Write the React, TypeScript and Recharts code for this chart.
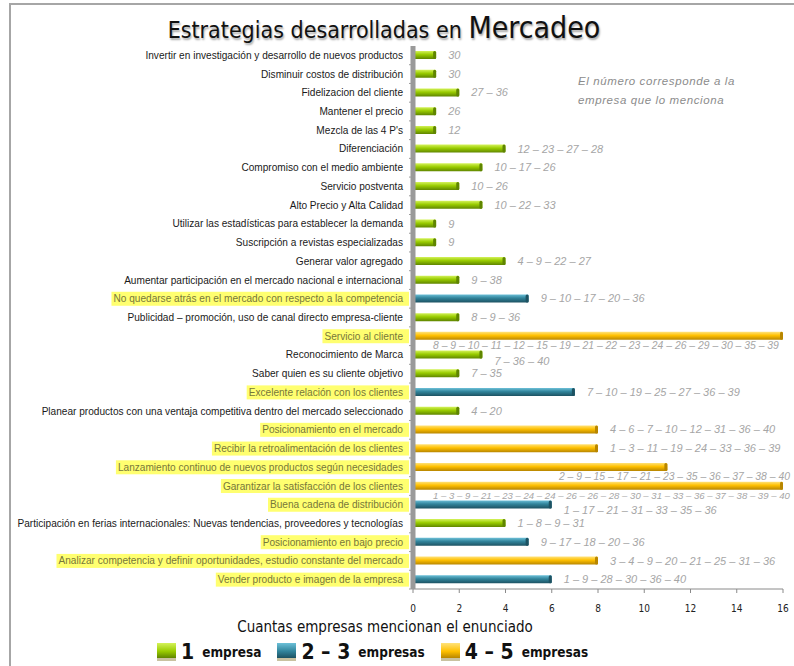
import React, { useLayoutEffect, useRef, useState } from "react";
import { Bar, BarChart, Cell, LabelList, XAxis, YAxis } from "recharts";

// estrategias de arriba hacia abajo, tal como aparecen en el gráfico
const categorias = [
  "Invertir en investigación y desarrollo de nuevos productos",
  "Disminuir costos de distribución",
  "Fidelizacion del cliente",
  "Mantener el precio",
  "Mezcla de las 4 P's",
  "Diferenciación",
  "Compromiso con el medio ambiente",
  "Servicio postventa",
  "Alto Precio y Alta Calidad",
  "Utilizar las estadísticas para establecer la demanda",
  "Suscripción a revistas especializadas",
  "Generar valor agregado",
  "Aumentar participación en el mercado nacional e internacional",
  "No quedarse atrás en el mercado con respecto a la competencia",
  "Publicidad – promoción, uso de canal directo empresa-cliente",
  "Servicio al cliente",
  "Reconocimiento de Marca",
  "Saber quien es su cliente objetivo",
  "Excelente relación con los clientes",
  "Planear productos con una ventaja competitiva dentro del mercado seleccionado",
  "Posicionamiento en el mercado",
  "Recibir la retroalimentación de los clientes",
  "Lanzamiento continuo de nuevos productos según necesidades",
  "Garantizar la satisfacción de los clientes",
  "Buena cadena de distribución",
  "Participación en ferias internacionales: Nuevas tendencias, proveedores y tecnologías",
  "Posicionamiento en bajo precio",
  "Analizar competencia y definir oportunidades, estudio constante del mercado",
  "Vender producto e imagen de la empresa",
];

const valores = [1, 1, 2, 1, 1, 4, 3, 2, 3, 1, 1, 4, 2, 5, 2, 16, 3, 2, 7, 2, 8, 8, 11, 16, 6, 4, 5, 8, 6];

// v = 1 empresa, a = 2–3 empresas, n = 4–5 empresas
const grupos = [
  "v", "v", "v", "v", "v", "v", "v", "v", "v", "v", "v", "v", "v", "a", "v",
  "n", "v", "v", "a", "v", "n", "n", "n", "n", "a", "v", "a", "n", "a",
];

const empresas = [
  "30",
  "30",
  "27 – 36",
  "26",
  "12",
  "12 – 23 – 27 – 28",
  "10 – 17 – 26",
  "10 – 26",
  "10 – 22 – 33",
  "9",
  "9",
  "4 – 9 – 22 – 27",
  "9 – 38",
  "9 – 10 – 17 – 20 – 36",
  "8 – 9 – 36",
  "8 – 9 – 10 – 11 – 12 – 15 – 19 – 21 – 22 – 23 – 24 – 26 – 29 – 30 – 35 – 39",
  "7 – 36 – 40",
  "7 – 35",
  "7 – 10 – 19 – 25 – 27 – 36 – 39",
  "4 – 20",
  "4 – 6 – 7 – 10 – 12 – 31 – 36 – 40",
  "1 – 3 – 11 – 19 – 24 – 33 – 36 – 39",
  "2 – 9 – 15 – 17 – 21 – 23 – 35 – 36 – 37 – 38 – 40",
  "1 – 3 – 9 – 21 – 23 – 24 – 24 – 26 – 26 – 28 – 30 – 31 – 33 – 36 – 37 – 38 – 39 – 40",
  "1 – 17 – 21 – 31 – 33 – 35 – 36",
  "1 – 8 – 9 – 31",
  "9 – 17 – 18 – 20 – 36",
  "3 – 4 – 9 – 20 – 21 – 25 – 31 – 36",
  "1 – 9 – 28 – 30 – 36 – 40",
];

const ticksX = [0, 2, 4, 6, 8, 10, 12, 14, 16];

const leyenda = [
  { grupo: "v", num: "1", txt: "empresa" },
  { grupo: "a", num: "2 – 3", txt: "empresas" },
  { grupo: "n", num: "4 – 5", txt: "empresas" },
];

const COLORES: Record<string, { claro: string; base: string; oscuro: string }> = {
  v: { claro: "#d4f25a", base: "#99cc00", oscuro: "#5f8500" },
  a: { claro: "#6cc0d8", base: "#31849b", oscuro: "#1d5262" },
  n: { claro: "#ffe27a", base: "#ffc000", oscuro: "#b88600" },
};

const FUENTE = "'Liberation Sans', Arial, sans-serif";
const ANGOSTA = "'Liberation Sans Narrow', 'DejaVu Sans Condensed', sans-serif";
const MAX_X = 16;
const BORDE_DER = 790;
const PASO = (589 - 46) / categorias.length;

const datos = categorias.map((nombre, i) => ({ nombre, valor: valores[i] }));

function EtiquetaCategoria(props: any) {
  const { x, y, payload } = props;
  const ref = useRef<SVGTextElement>(null);
  const [ancho, setAncho] = useState(0);
  useLayoutEffect(() => {
    if (ref.current) setAncho(ref.current.getComputedTextLength());
  }, []);
  const idx = payload.index ?? categorias.indexOf(payload.value);
  const resaltar = grupos[idx] !== "v";
  return (
    <g>
      {resaltar && ancho > 0 && (
        <rect x={x - ancho - 2} y={y - 7} width={ancho + 8} height={14} fill="#ffff70" />
      )}
      <text
        ref={ref}
        x={x}
        y={y}
        dy={3.5}
        textAnchor="end"
        fontFamily={FUENTE}
        fontSize={10.1}
        fill={resaltar ? "#77773a" : "#1a1a1a"}
      >
        {payload.value}
      </text>
      <line x1={x + 6} x2={x + 10} y1={y + PASO / 2} y2={y + PASO / 2} stroke="#9a9a9a" />
    </g>
  );
}

function Barra3D(props: any) {
  const { x, y, width, height, index } = props;
  const g = grupos[index];
  if (!width || width <= 0) return null;
  return (
    <g>
      <rect x={x} y={y} width={width} height={height} fill={`url(#grad-${g})`} rx={1} />
      <rect x={x + width - 3} y={y} width={3} height={height} fill={COLORES[g].oscuro} rx={1.5} />
    </g>
  );
}

// lista larga debajo de la barra; se achica si no cabe antes del borde
function AnotacionLarga({ x, y, width, height, index }: any) {
  const ref = useRef<SVGTextElement>(null);
  const [fs, setFs] = useState(10.4);
  const lleno = valores[index] >= MAX_X;
  const inicio = x + 20;
  useLayoutEffect(() => {
    if (!ref.current) return;
    const w = ref.current.getComputedTextLength();
    const disp = lleno ? BORDE_DER - inicio : BORDE_DER - (x + width) + 120;
    if (w > disp) setFs((f) => (f * disp) / w);
  }, []);
  return (
    <text
      ref={ref}
      x={lleno ? inicio : BORDE_DER}
      y={y + height + 9}
      textAnchor={lleno ? "start" : "end"}
      fontFamily={FUENTE}
      fontStyle="italic"
      fontSize={fs}
      fill="#a6a6a6"
    >
      {empresas[index]}
    </text>
  );
}

// la fila que sigue a una lista larga baja un poco su texto
function Anotacion(props: any) {
  const { x, y, width, height, index } = props;
  if (valores[index] >= 11) return <AnotacionLarga {...props} />;
  const previaLarga = index > 0 && valores[index - 1] >= 11;
  return (
    <text
      x={x + width + 12}
      y={y + height / 2 + (previaLarga ? 6 : 0)}
      dy={4}
      fontFamily={FUENTE}
      fontStyle="italic"
      fontSize={11}
      fill="#a6a6a6"
    >
      {empresas[index]}
    </text>
  );
}

function Cuadro({ grupo }: { grupo: string }) {
  const c = COLORES[grupo];
  return (
    <span
      style={{
        display: "inline-block",
        width: 19,
        height: 18,
        marginRight: 5,
        verticalAlign: "middle",
        background: `linear-gradient(180deg, ${c.claro} 0%, ${c.base} 55%, ${c.oscuro} 100%)`,
        borderBottom: "3px solid #c9c2a0",
        boxSizing: "border-box",
      }}
    />
  );
}

export default function App() {
  return (
    <div
      style={{
        position: "absolute",
        left: 0,
        top: 0,
        width: 794,
        height: 666,
        background: "#fff",
        overflow: "hidden",
      }}
    >
      {/* marco gris */}
      <div
        style={{
          position: "absolute",
          left: 9,
          top: 3,
          width: 800,
          height: 700,
          borderTop: "2px solid #a6a6a6",
          borderLeft: "2px solid #a6a6a6",
        }}
      />
      <div
        style={{
          position: "absolute",
          left: 0,
          width: 768,
          top: 10,
          textAlign: "center",
          fontFamily: ANGOSTA,
          color: "#111",
          textShadow: "1px 2px 2px rgba(0,0,0,0.35)",
          whiteSpace: "nowrap",
        }}
      >
        <span style={{ fontSize: 23 }}>Estrategias desarrolladas en </span>
        <span style={{ fontSize: 30 }}>Mercadeo</span>
      </div>
      <div
        style={{
          position: "absolute",
          left: 578,
          top: 72,
          fontFamily: FUENTE,
          fontStyle: "italic",
          fontSize: 11.5,
          lineHeight: "19px",
          color: "#8c8c8c",
          letterSpacing: 0.6,
        }}
      >
        El número corresponde a la
        <br />
        empresa que lo menciona
      </div>

      <div style={{ position: "absolute", left: 0, top: 0 }}>
        <BarChart
          width={794}
          height={666}
          data={datos}
          layout="vertical"
          margin={{ top: 46, right: 11, bottom: 57, left: 0 }}
          barCategoryGap={0}
        >
          <defs>
            {Object.keys(COLORES).map((g) => (
              <linearGradient key={g} id={`grad-${g}`} x1="0" y1="0" x2="0" y2="1">
                <stop offset="0%" stopColor={COLORES[g].claro} />
                <stop offset="45%" stopColor={COLORES[g].base} />
                <stop offset="100%" stopColor={COLORES[g].oscuro} />
              </linearGradient>
            ))}
          </defs>
          <XAxis
            type="number"
            domain={[0, MAX_X]}
            ticks={ticksX}
            interval={0}
            height={20}
            tick={{ fontSize: 10, fill: "#222", fontFamily: ANGOSTA }}
            tickSize={4}
            tickMargin={12}
            tickLine={{ stroke: "#8a8a8a" }}
            axisLine={{ stroke: "#8a8a8a" }}
            label={() => (
              <text x={385} y={632} textAnchor="middle" fontFamily={ANGOSTA} fontSize={15} fill="#111">
                Cuantas empresas mencionan el enunciado
              </text>
            )}
          />
          <YAxis
            type="category"
            dataKey="nombre"
            width={413}
            interval={0}
            tickLine={false}
            tickSize={0}
            tickMargin={10}
            axisLine={{ stroke: "#9a9a9a", strokeWidth: 5 }}
            tick={<EtiquetaCategoria />}
          />
          <Bar dataKey="valor" barSize={8} isAnimationActive={false} shape={<Barra3D />}>
            {datos.map((_, i) => (
              <Cell key={i} fill={COLORES[grupos[i]].base} />
            ))}
            <LabelList dataKey="valor" content={<Anotacion />} />
          </Bar>
        </BarChart>
      </div>

      <div
        style={{
          position: "absolute",
          left: 157,
          top: 640,
          display: "flex",
          alignItems: "center",
          fontFamily: ANGOSTA,
          color: "#111",
          whiteSpace: "nowrap",
        }}
      >
        {leyenda.map((l) => (
          <span key={l.grupo} style={{ display: "inline-flex", alignItems: "center", marginRight: 16 }}>
            <Cuadro grupo={l.grupo} />
            <span style={{ fontSize: 21, fontWeight: "bold", marginRight: 8 }}>{l.num}</span>
            <span style={{ fontSize: 13.5, fontWeight: "bold" }}>{l.txt}</span>
          </span>
        ))}
      </div>
    </div>
  );
}
